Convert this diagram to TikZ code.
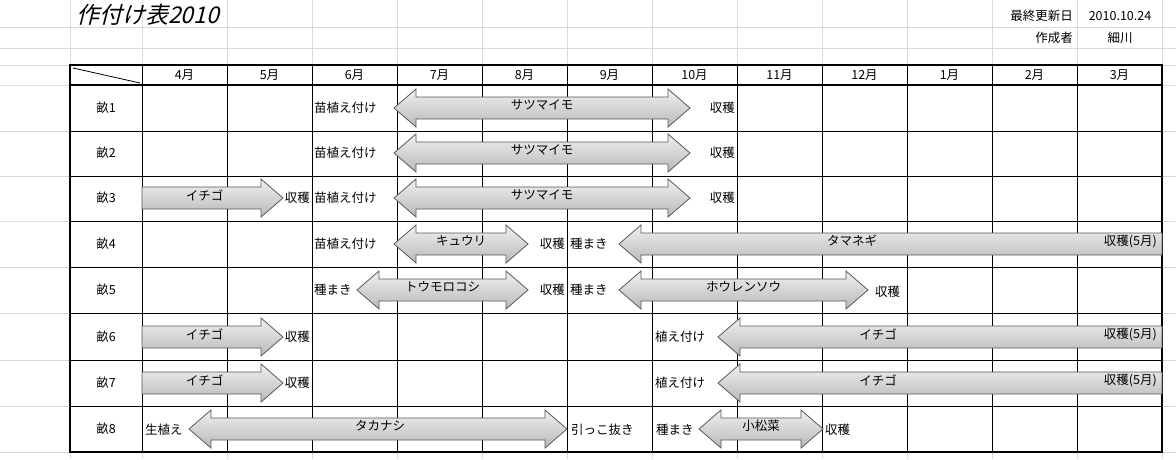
\documentclass[tikz,border=0pt]{standalone}
\usepackage{fontspec}
\setmainfont{Noto Sans CJK JP}
\newfontfamily\titlefont[FakeSlant=0.25]{Noto Sans CJK JP}
\begin{document}
\begin{tikzpicture}[x=1pt,y=-1pt,
  grid/.style={draw=gray!30,line width=0.8pt},
  thin/.style={draw=black,line width=1pt},
  thickb/.style={draw=black,line width=2.4pt},
  arr/.style={draw=gray!70!black,line width=0.8pt,top color=gray!12,bottom color=gray!55},
  txt/.style={font=\fontsize{12.5}{14}\selectfont,inner sep=0pt},
  alab/.style={font=\fontsize{12.5}{14}\selectfont,inner sep=0pt}]
\useasboundingbox (0,0) rectangle (1176,459);
\fill[white] (0,0) rectangle (1176,459);
% excel gridlines
\foreach \x in {70,142,227,312,397,482,567,652,737,822,907,992,1077,1162}
  \draw[grid] (\x,0) -- (\x,459);
\foreach \y in {27,48,65,85,131,176,221,267,313,360,406,452}
  \draw[grid] (0,\y) -- (1176,\y);
\fill[white] (70.5,65.5) rectangle (1161.5,451.5);
% table inner lines
\foreach \x in {142,227,312,397,482,567,652,737,822,907,992,1077}
  \draw[thin] (\x,65) -- (\x,452);
\foreach \y in {131,176,221,267,313,360,406}
  \draw[thin] (70,\y) -- (1162,\y);
\draw[thickb] (70,85) -- (1162,85);
\draw[thickb] (70,65) rectangle (1162,452);
\draw[line width=0.8pt] (73,68) -- (140,83);
% months
\foreach \m [count=\i] in {4,5,6,7,8,9,10,11,12,1,2,3}
  \node[txt] (m\i) at ({142+85*(\i-1)+42.5},75) {\m 月};
\foreach \r/\yy in {1/108,2/153,3/198,4/244,5/290,6/337,7/383,8/429}
  \node[txt] (r\r) at (106,\yy) {畝\r};
% title and header info
\node[inner sep=0pt,anchor=west,font=\fontsize{23}{26}\selectfont\titlefont] (title) at (76,15) {作付け表2010};
\node[txt,anchor=east] (upd) at (1073,16) {最終更新日};
\node[txt] (date) at (1120,16) {2010.10.24};
\node[txt,anchor=east] (auth) at (1073,38) {作成者};
\node[txt] (name) at (1120,38) {細川};
% arrow macros
\newcommand\dbl[5][0]{% x1 x2 y label
  \draw[arr] (#2,#4) -- (#2+22,#4-19) -- (#2+22,#4-11) -- (#3-22,#4-11) -- (#3-22,#4-19) -- (#3,#4)
    -- (#3-22,#4+19) -- (#3-22,#4+11) -- (#2+22,#4+11) -- (#2+22,#4+19) -- cycle;
  \node[alab] at ({(#2+#3)/2+#1},#4-3) {#5};}
\newcommand\rgt[4]{%
  \draw[arr] (#1,#3-11) -- (#2-22,#3-11) -- (#2-22,#3-19) -- (#2,#3) -- (#2-22,#3+19) -- (#2-22,#3+11) -- (#1,#3+11) -- cycle;
  \node[alab] at ({(#1+#2)/2-8},#3-3) {#4};}
\newcommand\lft[5]{% x1 x2 y label labelx
  \draw[arr] (#1,#3) -- (#1+22,#3-19) -- (#1+22,#3-11) -- (#2,#3-11) -- (#2,#3+11) -- (#1+22,#3+11) -- (#1+22,#3+19) -- cycle;
  \node[alab] at (#5,#3-3) {#4};}
% row 1-3
\foreach \yy in {108,153,198}{
  \node[txt,anchor=west] at (314,\yy) {苗植え付け};
  \dbl{394}{690}{\yy}{サツマイモ}
  \node[txt,anchor=east] at (735,\yy) {収穫};
}
\rgt{142}{283}{198}{イチゴ}
\node[txt,anchor=east] at (310,198) {収穫};
% row 4
\node[txt,anchor=west] at (314,244) {苗植え付け};
\dbl{394}{528}{244}{キュウリ}
\node[txt,anchor=east] at (565,244) {収穫};
\node[txt,anchor=west] at (570,244) {種まき};
\lft{619}{1162}{244}{タマネギ}{852}
\node[alab,anchor=east] at (1157,241) {収穫(5月)};
% row 5
\node[txt,anchor=west] at (314,290) {種まき};
\dbl{357}{528}{290}{トウモロコシ}
\node[txt,anchor=east] at (565,290) {収穫};
\node[txt,anchor=west] at (570,290) {種まき};
\dbl{619}{868}{290}{ホウレンソウ}
\node[txt,anchor=west] at (875,292) {収穫};
% rows 6-7
\foreach \yy in {337,383}{
  \rgt{142}{283}{\yy}{イチゴ}
  \node[txt,anchor=east] at (310,\yy) {収穫};
  \node[txt,anchor=west] at (655,\yy) {植え付け};
  \lft{718}{1162}{\yy}{イチゴ}{878}
  \node[alab,anchor=east] at (1157,\yy-3) {収穫(5月)};
}
% row 8
\node[txt,anchor=west] at (145,430) {生植え};
\dbl[2]{189}{567}{429}{タカナシ}
\node[txt,anchor=west] at (571,430) {引っこ抜き};
\node[txt,anchor=west] at (656,430) {種まき};
\dbl{699}{823}{429}{小松菜}
\node[txt,anchor=west] at (825,430) {収穫};
\end{tikzpicture}
\end{document}
